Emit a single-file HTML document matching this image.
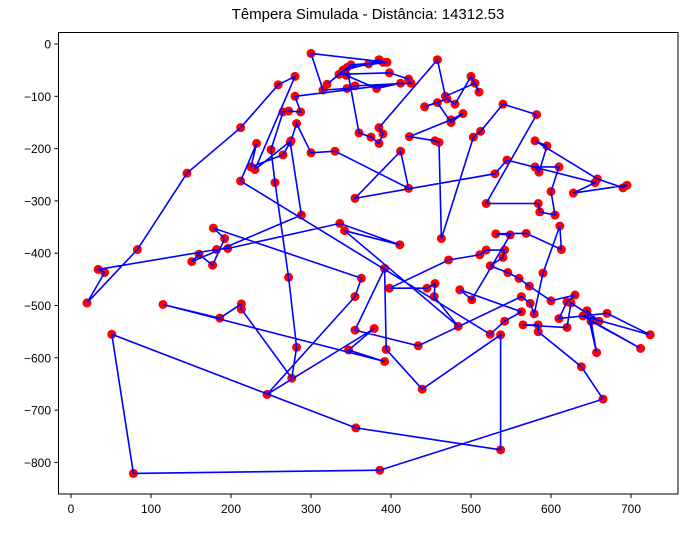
<!DOCTYPE html>
<html><head><meta charset="utf-8"><style>
body{margin:0;background:#fff;width:687px;height:528px;overflow:hidden}
text{font-family:"Liberation Sans","DejaVu Sans",sans-serif}
</style></head><body>
<svg id="chart" width="687" height="528">
<text x="368" y="19" font-size="15" text-anchor="middle">Têmpera Simulada - Distância: 14312.53</text>
<g id="plot"></g>
<rect x="58.5" y="32.5" width="619.5" height="461.5" fill="none" stroke="#000" stroke-width="1"/>
<g id="axes"></g>
</svg>
<script>
const xTicks=[0,100,200,300,400,500,600,700];
const yTicks=[0,-100,-200,-300,-400,-500,-600,-700,-800];
const tourX=[145,83,20,42,34,182,196,336,411,342,484,454,455,445,398,472,511,519,542,540,524,546,560,573,600,630,620,610,670,724,640,712,650,657,645,660,625,620,565,584,584,638,665,386,78,51,356,537,537,439,394,392,355,434,563,574,579,590,611,613,569,531,549,501,486,563,542,524,212,232,225,265,274,288,151,160,177,192,178,363,355,245,379,347,392,115,186,213,213,276,282,272,255,250,265,272,287,280,412,382,344,340,372,385,390,350,320,335,398,422,425,355,345,315,300,395,345,360,375,385,390,385,458,468,505,510,500,480,470,442,458,475,490,475,423,455,460,463,503,512,540,582,519,584,586,605,600,610,580,585,595,580,658,690,695,628,655,545,530,355,412,422,330,300,282,275,230,280,259,212];
const tourY=[-247,-393,-495,-437,-431,-393,-391,-343,-384,-357,-540,-483,-458,-467,-467,-413,-403,-394,-394,-408,-424,-437,-448,-463,-491,-480,-493,-525,-515,-556,-520,-582,-530,-590,-510,-530,-495,-542,-537,-537,-550,-617,-679,-815,-821,-555,-734,-776,-556,-660,-584,-429,-547,-577,-483,-496,-516,-438,-348,-393,-362,-363,-365,-489,-470,-512,-530,-555,-262,-190,-235,-212,-188,-327,-416,-402,-423,-372,-352,-448,-483,-670,-544,-585,-607,-498,-524,-497,-507,-639,-580,-446,-265,-202,-130,-128,-130,-100,-75,-85,-60,-50,-38,-30,-35,-40,-77,-58,-55,-67,-75,-80,-85,-88,-18,-35,-45,-170,-178,-190,-172,-160,-30,-100,-75,-92,-62,-115,-105,-120,-112,-150,-133,-145,-177,-185,-188,-372,-178,-167,-115,-135,-305,-305,-321,-327,-282,-235,-235,-245,-195,-185,-258,-275,-270,-285,-265,-222,-248,-295,-205,-276,-205,-208,-152,-185,-240,-62,-78,-160];
const NS='http://www.w3.org/2000/svg';
const sx=v=>71+0.8*v, sy=v=>44-0.523*v;
const plot=document.getElementById('plot'), axes=document.getElementById('axes');
let d='';
for(let i=0;i<tourX.length;i++){d+=(i?'L':'M')+sx(tourX[i]).toFixed(1)+' '+sy(tourY[i]).toFixed(1);}
d+='Z';
for(let i=0;i<tourX.length;i++){
const c=document.createElementNS(NS,'circle');
c.setAttribute('cx',sx(tourX[i]));c.setAttribute('cy',sy(tourY[i]));c.setAttribute('r',4.5);c.setAttribute('fill','#ff0000');


plot.appendChild(c);}
const p=document.createElementNS(NS,'path');
p.setAttribute('d',d);p.setAttribute('fill','none');p.setAttribute('stroke','#0000ff');p.setAttribute('stroke-width','1.6');


plot.appendChild(p);
xTicks.forEach(v=>{const x=sx(v);
const l=document.createElementNS(NS,'line');l.setAttribute('x1',x);l.setAttribute('x2',x);l.setAttribute('y1',494);l.setAttribute('y2',498);l.setAttribute('stroke','#000');


axes.appendChild(l);
const t=document.createElementNS(NS,'text');t.setAttribute('x',x);t.setAttribute('y',513);t.setAttribute('font-size','12');t.setAttribute('text-anchor','middle');t.textContent=v;


axes.appendChild(t);});
yTicks.forEach(v=>{const y=sy(v);
const l=document.createElementNS(NS,'line');l.setAttribute('x1',54.5);l.setAttribute('x2',58.5);l.setAttribute('y1',y);l.setAttribute('y2',y);l.setAttribute('stroke','#000');


axes.appendChild(l);
const t=document.createElementNS(NS,'text');t.setAttribute('x',51);t.setAttribute('y',y+4.5);t.setAttribute('font-size','12');t.setAttribute('text-anchor','end');t.textContent=v<0?'\u2212'+(-v):v;


axes.appendChild(t);});
</script>
</body></html>
